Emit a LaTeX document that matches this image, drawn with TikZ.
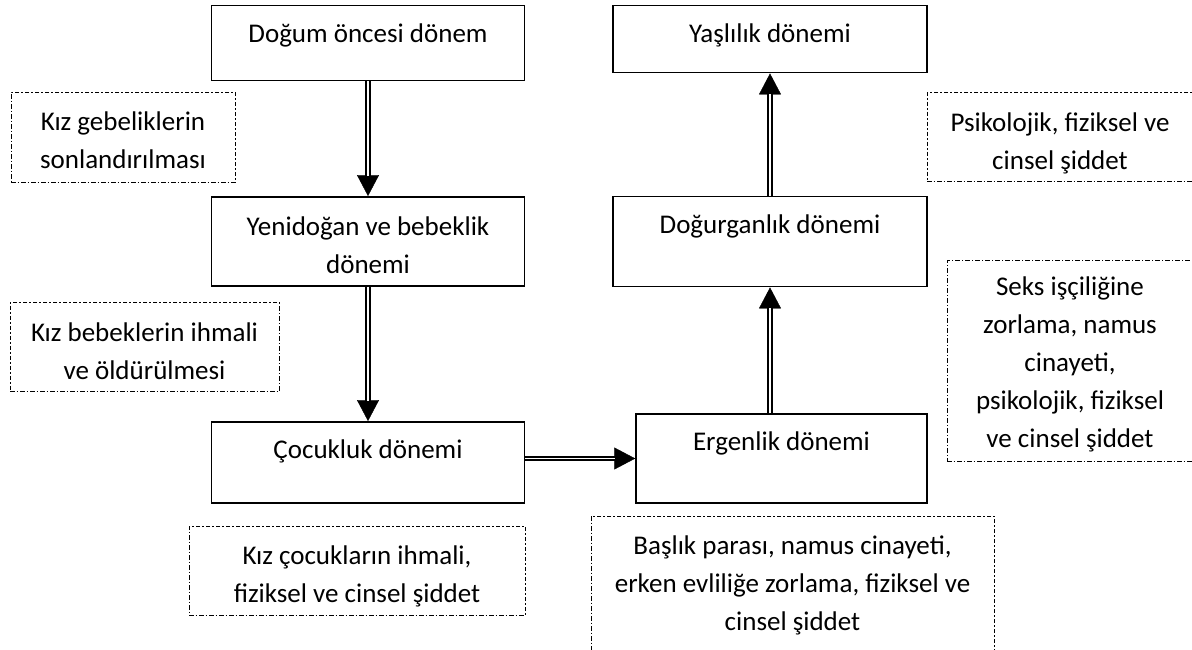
\documentclass[tikz,border=0pt]{standalone}
\usepackage{fontspec}
\setmainfont{Carlito}
\usetikzlibrary{arrows.meta,positioning}

\tikzset{
	stage/.style={draw, line width=1.5pt, inner sep=0pt},
	risk/.style={draw, line width=1pt, dash pattern=on 4.5pt off 2pt on 1.5pt off 2pt, inner sep=0pt},
	txt/.style={anchor=north, yshift=#1, inner sep=0pt, align=center, font=\fontsize{27}{38}\selectfont, execute at begin node=\strut},
	txt/.default=-10.75pt,
	tip/.style={-{Triangle[width=22pt,length=21pt]}, line width=0.4pt},
	twin/.style={double, double distance=1.8pt, line width=2pt, shorten >=20.5pt}
}

\begin{document}
\begin{tikzpicture}[x=1pt, y=-1pt]
	\useasboundingbox (0,0) rectangle (1192,649);
	\node[stage, minimum width=313pt, minimum height=75pt, label={[txt]north:Doğum öncesi dönem}] (dogum) at (368,43) {};
	\node[stage, minimum width=313pt, minimum height=89pt, label={[txt=-20pt]north:{Yenidoğan ve bebeklik\\ dönemi}}] (yenidogan) at (368,241.3) {};
	\node[stage, minimum width=313pt, minimum height=81pt, label={[txt]north:Çocukluk dönemi}] (cocukluk) at (368,462.3) {};
	\node[stage, minimum width=291pt, minimum height=89pt, label={[txt]north:Ergenlik dönemi}] (ergenlik) at (781.5,458.5) {};
	\node[stage, minimum width=314pt, minimum height=90pt, label={[txt]north:Doğurganlık dönemi}] (dogurganlik) at (770,241.7) {};
	\node[stage, minimum width=314pt, minimum height=67pt, label={[txt]north:Yaşlılık dönemi}] (yaslilik) at (770,39.2) {};
	
	\node[risk, minimum width=224pt, minimum height=90pt, label={[txt=-20pt]north:{Kız gebeliklerin\\ sonlandırılması}}] (gebelik) at (123,137) {};
	\node[risk, minimum width=269pt, minimum height=89pt, label={[txt=-20pt]north:{Kız bebeklerin ihmali\\ ve öldürülmesi}}] (bebek) at (144.5,347.2) {};
	\node[risk, minimum width=336pt, minimum height=89pt, label={[txt=-20pt]north:{Kız çocukların ihmali,\\ fiziksel ve cinsel şiddet}}] (cocuk) at (357,570.5) {};
	\node[risk, minimum width=403pt, minimum height=144pt, label={[txt=-20pt]north:{Başlık parası, namus cinayeti,\\ erken evliliğe zorlama, fiziksel ve\\ cinsel şiddet}}] (baslik) at (792.5,588) {};
	\node[risk, minimum width=266pt, minimum height=89pt, label={[txt=-20pt]north:{Psikolojik, fiziksel ve\\ cinsel şiddet}}] (siddet) at (1060,137.2) {};
	\node[risk, minimum width=246pt, minimum height=200.7pt, label={[txt=-16pt]north:{Seks işçiliğine\\ zorlama, namus\\ cinayeti,\\ psikolojik, fiziksel\\ ve cinsel şiddet}}] (seks) at (1070,361.3) {};
	
	\draw[tip] (dogum) -- (yenidogan);
	\draw[twin] (dogum) -- (yenidogan);
	\draw[tip] (yenidogan) -- (cocukluk);
	\draw[twin] (yenidogan) -- (cocukluk);
	\draw[tip] (cocukluk.east |- ergenlik.west) -- (ergenlik.west);
	\draw[twin] (cocukluk.east |- ergenlik.west) -- (ergenlik.west);
	\draw[tip] (dogurganlik |- ergenlik.north) -- (dogurganlik.south);
	\draw[twin] (dogurganlik |- ergenlik.north) -- (dogurganlik.south);
	\draw[tip] (dogurganlik) -- (yaslilik);
	\draw[twin] (dogurganlik) -- (yaslilik);
\end{tikzpicture}
\end{document}
